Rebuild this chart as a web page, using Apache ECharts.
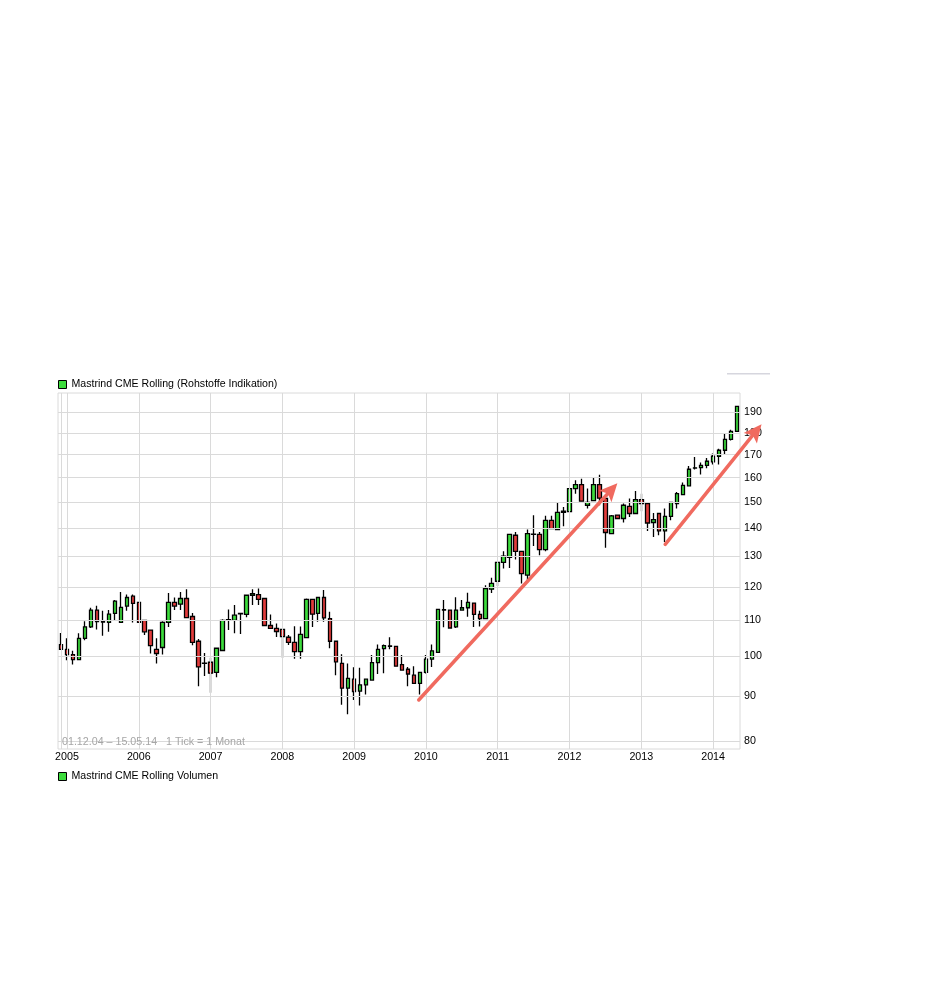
<!DOCTYPE html>
<html><head><meta charset="utf-8">
<script src="https://cdn.jsdelivr.net/npm/echarts@6/dist/echarts.min.js"></script>
<style>html,body{margin:0;padding:0;background:#fff}#c{width:943px;height:989px}</style>
</head><body><div id="c"></div>
<script>
// Monthly candles [open, close, low, high]
const dec2004 = [[103.1,101.8,101.6,106.3]];
const y2005 = [[101.8,100.4,98.9,104.8],[100.4,99.1,97.8,101.4],[99.1,104.8,98.9,106.2],[104.8,108.0,104.3,109.6],[108.0,112.9,107.7,113.6],[112.9,109.5,107.3,114.2],[109.4,109.5,105.5,112.7],[109.3,111.7,106.6,112.9],[111.9,115.6,109.7,115.9],[109.3,113.7,109.1,118.4],[114.1,116.7,112.7,117.6],[117.1,114.9,109.3,117.6]];
const y2006 = [[115.2,109.3,109.2,115.3],[109.9,106.6,105.7,110.0],[107.1,102.8,100.7,107.1],[101.8,100.7,98.1,104.8],[102.3,109.3,100.4,109.6],[109.3,115.2,108.0,118.1],[115.2,114.1,112.9,116.7],[114.7,116.4,112.9,118.4],[116.4,110.7,110.5,119.3],[111.0,103.7,102.9,112.0],[104.0,97.2,92.4,104.6],[98.1,98.2,94.9,100.8]];
const y2007 = [[98.4,95.6,90.8,99.6],[95.8,102.1,94.6,102.2],[101.5,109.9,101.3,110.2],[110.0,110.1,107.1,113.1],[109.9,111.4,106.2,114.4],[111.8,111.9,106.0,112.0],[111.6,117.4,110.8,117.5],[117.4,117.9,114.4,119.3],[117.6,116.1,114.4,119.5],[116.4,108.4,108.3,116.5],[108.4,107.6,107.5,111.6],[107.6,106.7,105.2,109.0]];
const y2008 = [[107.3,105.3,99.6,107.4],[105.1,103.7,103.0,105.7],[103.7,101.2,99.3,108.2],[101.2,105.9,99.3,108.1],[105.0,116.1,104.8,116.4],[116.1,111.7,108.0,116.2],[111.9,116.7,109.5,116.8],[116.7,110.6,109.5,119.0],[110.4,104.0,102.1,112.4],[104.0,98.5,95.1,104.1],[98.1,91.9,88.0,100.5],[91.9,94.3,85.8,98.1]];
const y2009 = [[94.1,91.1,89.1,97.1],[91.2,92.7,87.8,97.0],[92.7,94.1,90.4,94.2],[93.9,98.3,93.8,100.3],[98.3,101.8,95.4,103.1],[102.0,102.8,95.6,103.1],[102.7,102.6,101.8,105.1],[102.6,97.4,97.3,102.7],[97.8,96.4,96.3,100.3],[96.6,95.4,92.4,97.2],[95.1,93.1,93.0,97.4],[93.1,95.8,90.4,95.9]];
const y2010 = [[95.8,99.2,95.5,100.3],[99.2,101.4,97.2,103.1],[101.0,113.1,100.9,113.2],[112.9,113.0,107.9,115.9],[112.9,107.7,107.6,113.0],[108.0,112.9,107.7,116.8],[112.9,113.6,112.7,115.9],[113.6,115.2,110.9,118.2],[115.0,111.6,108.0,115.1],[111.6,110.4,108.1,112.7],[110.4,119.5,110.3,120.5],[119.3,121.1,118.1,122.9]];
const y2011 = [[121.8,128.0,120.3,128.1],[128.0,130.1,126.0,131.8],[129.7,137.8,126.1,137.9],[137.5,131.8,129.0,138.7],[131.8,124.3,121.1,131.9],[123.8,138.1,121.4,139.6],[137.9,137.8,133.7,144.9],[137.8,132.4,130.4,138.7],[132.4,143.0,131.8,144.7],[143.0,139.9,139.8,144.7],[139.6,146.0,139.5,149.9],[146.0,146.5,140.8,148.1]];
const y2012 = [[146.3,155.5,146.2,155.6],[155.5,157.1,153.4,158.9],[157.1,150.4,150.3,159.6],[148.8,149.9,147.5,155.5],[150.6,157.1,150.4,160.3],[157.1,151.6,148.8,161.3],[151.5,138.5,133.0,151.6],[138.1,144.7,137.9,145.0],[145.0,143.7,143.5,145.1],[143.7,148.8,142.2,149.5],[148.4,145.6,144.3,151.5],[145.6,151.0,145.4,154.5]];
const y2013 = [[151.0,149.5,146.5,153.4],[149.5,142.0,139.0,149.6],[142.2,143.3,136.9,145.8],[145.6,139.1,137.5,145.7],[139.1,144.5,135.1,147.5],[144.5,149.9,143.0,150.0],[149.5,153.4,147.5,154.1],[153.0,156.8,152.8,158.0],[156.6,163.6,156.4,165.0],[164.1,164.2,163.5,169.0],[164.3,165.3,161.4,166.5],[165.3,167.1,164.0,168.5]];
const y2014 = [[166.8,169.3,165.7,170.5],[169.3,172.0,165.7,172.7],[172.0,177.0,170.0,179.7],[177.0,180.8,176.5,181.5],[180.8,193.1,180.7,193.2]];

const priceTicks = [80,90,100,110,120,130,140,150,160,170,180,190];
const startYear = 2004, startMonth = 12;
// Trend arrows (annotation): [monthIndex, price] from -> to
const arrows = [
  {from:[59.8, 89.1], to:[93.0, 157.7]},
  {from:[101.0, 134.2], to:[117.1, 184.2]}
];

const seriesName = 'Mastrind CME Rolling (Rohstoffe Indikation)';
const volName = 'Mastrind CME Rolling Volumen';
const rangeText = '01.12.04 \u2013 15.05.14   1 Tick = 1 Monat';

const ohlc = [].concat(dec2004,y2005,y2006,y2007,y2008,y2009,y2010,y2011,y2012,y2013,y2014);
const months = [];
{
  let y = startYear, m = startMonth;
  for (let i = 0; i < ohlc.length; i++) {
    months.push(y + '-' + String(m).padStart(2,'0'));
    m++; if (m > 12) { m = 1; y++; }
  }
}
const yearStarts = months.filter((mm,i) => mm.endsWith('-01') || i === 0);

const FONT = 'Liberation Sans, Arial, sans-serif';
const GREEN = '#3ddc3d', RED = '#e23c3c', GRID = '#dadada';

const chart = echarts.init(document.getElementById('c'), null, {renderer:'canvas'});
chart.setOption({
  animation: false,
  backgroundColor: '#fff',
  textStyle: {fontFamily: FONT},
  title: {
    text: rangeText, left: 62, top: 737, padding: 0,
    textStyle: {fontSize: 10.7, fontWeight: 'normal', color: '#a6a6a6', fontFamily: FONT}
  },
  legend: [
    {left: 58, top: 379, padding: 0, itemWidth: 8, itemHeight: 8, icon: 'rect', selectedMode: false,
     data: [{name: seriesName, itemStyle: {color: GREEN, borderColor: '#000', borderWidth: 1}}],
     textStyle: {fontSize: 10.6, color: '#000', fontFamily: FONT}},
    {left: 58, top: 771, padding: 0, itemWidth: 8, itemHeight: 8, icon: 'rect', selectedMode: false,
     data: [{name: volName, itemStyle: {color: GREEN, borderColor: '#000', borderWidth: 1}}],
     textStyle: {fontSize: 10.6, color: '#000', fontFamily: FONT}}
  ],
  grid: {left: 58, top: 393, width: 682, height: 356, show: true, borderColor: GRID, borderWidth: 1, backgroundColor: 'transparent'},
  xAxis: {
    type: 'category', data: months, boundaryGap: true,
    axisLine: {show: false}, axisTick: {show: false}, splitLine: {show: false},
    axisLabel: {
      interval: (i, v) => v.endsWith('-01'),
      formatter: v => v.slice(0,4),
      fontSize: 10.7, color: '#000', margin: 3, fontFamily: FONT
    }
  },
  yAxis: {
    type: 'log', logBase: 10, min: 78.3, max: 200, position: 'right',
    axisLine: {show: false}, axisTick: {show: false}, axisLabel: {show: false}, splitLine: {show: false}
  },
  series: [
    {
      type: 'line', name: '__grid', data: [], z: 1, silent: true,
      markLine: {
        silent: true, symbol: ['none','none'], animation: false,
        lineStyle: {color: GRID, width: 1, type: 'solid'},
        emphasis: {disabled: true},
        data: priceTicks.map(v => ({yAxis: v, label: {show: true, position: 'end', distance: 4, formatter: String(v), color: '#000', fontSize: 10.7, fontFamily: FONT}}))
          .concat(yearStarts.map(c => ({xAxis: c, label: {show: false}})))
      }
    },
    {
      type: 'candlestick', name: seriesName, data: ohlc, z: 3, barWidth: 4,
      itemStyle: {color: GREEN, color0: RED, borderColor: '#000', borderColor0: '#000', borderWidth: 1.3},
      emphasis: {disabled: true}
    },
    {type: 'line', name: volName, data: [], itemStyle: {color: GREEN}}
  ]
});

// Arrows anchored in data space
const last = months.length - 1;
const px0 = chart.convertToPixel({gridIndex: 0}, [months[0], 100]);
const px1 = chart.convertToPixel({gridIndex: 0}, [months[last], 100]);
function toPx(i, price) {
  const y = chart.convertToPixel({gridIndex: 0}, [months[0], price])[1];
  return [px0[0] + (px1[0] - px0[0]) * i / last, y];
}
const ARROW = '#f06a5f';
const gfx = [];
arrows.forEach(a => {
  const s = toPx(a.from[0], a.from[1]);
  const t = toPx(a.to[0], a.to[1]);
  const dx = t[0]-s[0], dy = t[1]-s[1], len = Math.hypot(dx, dy);
  const ux = dx/len, uy = dy/len, nx = -uy, ny = ux;
  const L = 18, W = 8.5;
  const bx = t[0]-ux*L, by = t[1]-uy*L;
  gfx.push({type: 'line', z: 100, silent: true,
    shape: {x1: s[0], y1: s[1], x2: bx + ux*4, y2: by + uy*4},
    style: {stroke: ARROW, lineWidth: 3.5, lineCap: 'round'}});
  gfx.push({type: 'polygon', z: 100, silent: true,
    shape: {points: [[t[0], t[1]], [bx + nx*W, by + ny*W], [bx + ux*4, by + uy*4], [bx - nx*W, by - ny*W]]},
    style: {fill: ARROW}});
});
gfx.push({type: 'rect', z: 50, silent: true, shape: {x: 727, y: 373, width: 43, height: 1.5}, style: {fill: '#d6d6de'}});
chart.setOption({graphic: gfx});
</script></body></html>
